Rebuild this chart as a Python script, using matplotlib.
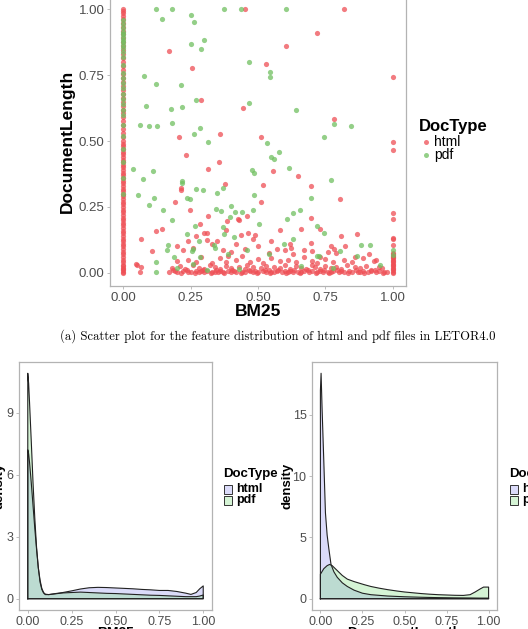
import matplotlib
matplotlib.use("Agg")
import matplotlib.pyplot as plt
from matplotlib.patches import Rectangle
from matplotlib.lines import Line2D

plt.rcParams['font.family'] = ['Liberation Sans', 'DejaVu Sans']

W, H = 528, 629

# ---- scatter data: LETOR4.0 features (BM25 vs DocumentLength) ----
html_col0_y = [0.0, 0.005, 0.01, 0.015, 0.02, 0.025, 0.03, 0.04, 0.05, 0.06, 0.07, 0.08, 0.09, 0.1,
               0.11, 0.12, 0.13, 0.14, 0.15, 0.16, 0.17, 0.18, 0.19, 0.2, 0.21, 0.22, 0.23, 0.24,
               0.25, 0.26, 0.27, 0.28, 0.29, 0.3, 0.31, 0.32, 0.33, 0.34, 0.35, 0.36, 0.37, 0.38,
               0.39, 0.4, 0.41, 0.42, 0.43, 0.44, 0.45, 0.46, 0.47, 0.48, 0.49, 0.5, 0.515, 0.53,
               0.545, 0.56, 0.575, 0.59, 0.605, 0.62, 0.635, 0.65, 0.665, 0.68, 0.695, 0.71, 0.725,
               0.74, 0.755, 0.77, 0.785, 0.8, 0.815, 0.83, 0.845, 0.86, 0.875, 0.89, 0.905, 0.92,
               0.935, 0.95, 0.965, 0.975, 0.985, 0.995, 1.0]
pdf_col0_y = [0.3, 0.36, 0.42, 0.47, 0.52, 0.56, 0.6, 0.62, 0.64, 0.66, 0.68, 0.7, 0.72, 0.74,
              0.76, 0.79, 0.82, 0.84, 0.855, 0.865, 0.875, 0.885, 0.895, 0.905, 0.915, 0.93,
              0.945, 0.96]
html_col1_y = [0.0, 0.005, 0.01, 0.015, 0.02, 0.025, 0.03, 0.035, 0.04, 0.045, 0.05, 0.055, 0.06,
               0.065, 0.07, 0.075, 0.105, 0.127, 0.134, 0.205, 0.228, 0.468, 0.497, 0.743]

html_x = [0.452, 0.821, 0.72, 0.603, 0.168, 0.256, 0.531, 0.444, 0.29, 0.783, 0.206, 0.358,
          0.513, 0.234, 0.354, 0.316, 0.556, 0.65, 0.376, 0.212, 0.212, 0.519, 0.697, 0.192,
          0.804, 0.512, 0.248, 0.697, 0.316, 0.46, 0.424, 0.428, 0.12, 0.142, 0.067, 0.106,
          0.05, 0.045, 0.067, 0.06, 0.285, 0.3, 0.31, 0.348, 0.385, 0.38, 0.435, 0.464, 0.487,
          0.48, 0.58, 0.624, 0.661, 0.697, 0.732, 0.782, 0.809, 0.825, 0.868, 0.914, 0.94,
          0.2, 0.22, 0.26, 0.33, 0.4, 0.45, 0.54, 0.6, 0.63, 0.7, 0.76, 0.86, 0.24, 0.37,
          0.42, 0.5, 0.57, 0.67, 0.73, 0.79, 0.27, 0.31, 0.39, 0.55, 0.62, 0.77,
          # dense band near zero
          0.17, 0.19, 0.2, 0.22, 0.24, 0.25, 0.27, 0.28, 0.29, 0.3, 0.31, 0.33, 0.34, 0.35,
          0.36, 0.37, 0.39, 0.4, 0.41, 0.42, 0.44, 0.45, 0.47, 0.48, 0.49, 0.5, 0.52, 0.53,
          0.55, 0.56, 0.57, 0.59, 0.6, 0.61, 0.62, 0.63, 0.65, 0.66, 0.67, 0.69, 0.7, 0.72,
          0.73, 0.74, 0.76, 0.77, 0.78, 0.8, 0.81, 0.82, 0.84, 0.85, 0.87, 0.88, 0.89, 0.91,
          0.92, 0.94, 0.95, 0.97, 0.98,
          0.18, 0.21, 0.23, 0.26, 0.28, 0.3, 0.32, 0.34, 0.36, 0.38, 0.4, 0.43, 0.45, 0.46,
          0.48, 0.51, 0.53, 0.54, 0.56, 0.58, 0.6, 0.62, 0.64, 0.66, 0.68, 0.7, 0.71, 0.73,
          0.75, 0.77, 0.79, 0.81, 0.83, 0.86, 0.88, 0.9, 0.92, 0.95, 0.96,
          0.2, 0.24, 0.27, 0.29, 0.33, 0.36, 0.38, 0.42, 0.44, 0.47, 0.5, 0.52, 0.55, 0.58,
          0.61, 0.64, 0.67, 0.7, 0.72, 0.75, 0.78, 0.82, 0.85, 0.89, 0.93,
          0.185, 0.215, 0.235, 0.265, 0.295, 0.325, 0.345, 0.375, 0.405, 0.435, 0.465, 0.495,
          0.525, 0.545, 0.575, 0.605, 0.635, 0.655, 0.685, 0.715, 0.745, 0.765, 0.795, 0.835,
          0.865, 0.895, 0.935, 0.965]
html_y = [1.0, 1.0, 0.909, 0.863, 0.842, 0.776, 0.794, 0.627, 0.656, 0.585, 0.515, 0.529,
          0.515, 0.448, 0.42, 0.396, 0.387, 0.368, 0.339, 0.323, 0.314, 0.332, 0.329, 0.268,
          0.281, 0.268, 0.24, 0.209, 0.215, 0.215, 0.205, 0.2, 0.159, 0.168, 0.13, 0.084,
          0.03, 0.032, 0.023, 0.004, 0.185, 0.153, 0.153, 0.122, 0.195, 0.162, 0.145, 0.152,
          0.142, 0.13, 0.162, 0.095, 0.168, 0.115, 0.168, 0.091, 0.139, 0.1, 0.147, 0.073,
          0.049,
          0.1, 0.085, 0.095, 0.11, 0.08, 0.09, 0.075, 0.085, 0.07, 0.082, 0.078, 0.06, 0.12,
          0.088, 0.11, 0.1, 0.09, 0.085, 0.06, 0.075, 0.14, 0.125, 0.065, 0.12, 0.11, 0.1,
          0.004, 0.006, 0.002, 0.008, 0.003, 0.005, 0.007, 0.002, 0.006, 0.004, 0.008, 0.003,
          0.005, 0.002, 0.007, 0.004, 0.006, 0.003, 0.008, 0.002, 0.005, 0.004, 0.007, 0.003,
          0.006, 0.002, 0.008, 0.004, 0.005, 0.003, 0.007, 0.002, 0.006, 0.004, 0.008, 0.003,
          0.005, 0.002, 0.007, 0.004, 0.006, 0.003, 0.008, 0.002, 0.005, 0.004, 0.007, 0.003,
          0.006, 0.002, 0.008, 0.004, 0.005, 0.003, 0.007, 0.002, 0.006, 0.004, 0.008, 0.003,
          0.005,
          0.018, 0.025, 0.014, 0.028, 0.02, 0.016, 0.03, 0.022, 0.013, 0.026, 0.019, 0.024,
          0.015, 0.029, 0.021, 0.017, 0.027, 0.012, 0.023, 0.018, 0.03, 0.014, 0.025, 0.02,
          0.016, 0.028, 0.022, 0.013, 0.026, 0.019, 0.024, 0.015, 0.029, 0.021, 0.017, 0.027,
          0.012, 0.023, 0.018,
          0.045, 0.05, 0.04, 0.06, 0.038, 0.055, 0.042, 0.048, 0.065, 0.04, 0.052, 0.036,
          0.058, 0.044, 0.05, 0.04, 0.062, 0.046, 0.038, 0.054, 0.042, 0.05, 0.04, 0.056, 0.045,
          0.01, 0.0, 0.012, 0.001, 0.01, 0.0, 0.011, 0.001, 0.009, 0.0, 0.012, 0.001,
          0.01, 0.0, 0.011, 0.001, 0.009, 0.0, 0.012, 0.001, 0.01, 0.0, 0.011, 0.001,
          0.009, 0.0, 0.012, 0.001]

pdf_x = [0.122, 0.18, 0.143, 0.25, 0.262, 0.374, 0.435, 0.603, 0.252, 0.3, 0.29, 0.467,
         0.544, 0.544, 0.075, 0.122, 0.212, 0.269, 0.084, 0.175, 0.218, 0.467, 0.642, 0.06,
         0.096, 0.125, 0.182, 0.284, 0.261, 0.782, 0.846, 0.746, 0.313, 0.534, 0.577, 0.55,
         0.56, 0.036, 0.11, 0.072, 0.217, 0.219, 0.297, 0.478, 0.486, 0.617, 0.772, 0.054,
         0.115, 0.095, 0.238, 0.248, 0.27, 0.349, 0.369, 0.4, 0.344, 0.362, 0.414, 0.439,
         0.146, 0.182, 0.486, 0.697, 0.608, 0.63, 0.655, 0.482, 0.165, 0.163, 0.238, 0.265,
         0.281, 0.258, 0.256, 0.335, 0.34, 0.369, 0.374, 0.396, 0.41, 0.46, 0.502, 0.597,
         0.63, 0.719, 0.745, 0.72, 0.728, 0.806, 0.883, 0.916, 0.867, 1.0, 1.0, 0.122, 0.122,
         0.186, 0.26, 0.285, 0.388, 0.54, 0.955, 0.2, 0.31, 0.43, 0.66, 0.78]
pdf_y = [1.0, 1.0, 0.963, 0.978, 0.953, 1.0, 1.0, 1.0, 0.867, 0.885, 0.85, 0.8,
         0.762, 0.742, 0.749, 0.716, 0.714, 0.658, 0.633, 0.622, 0.628, 0.646, 0.62, 0.561,
         0.557, 0.557, 0.57, 0.551, 0.529, 0.565, 0.558, 0.515, 0.495, 0.494, 0.458, 0.44,
         0.433, 0.396, 0.386, 0.358, 0.348, 0.342, 0.313, 0.391, 0.38, 0.399, 0.354, 0.295,
         0.283, 0.256, 0.285, 0.281, 0.318, 0.303, 0.323, 0.253, 0.244, 0.234, 0.23, 0.23,
         0.238, 0.2, 0.297, 0.286, 0.205, 0.227, 0.239, 0.238, 0.104, 0.086, 0.146, 0.176,
         0.122, 0.092, 0.084, 0.105, 0.093, 0.175, 0.149, 0.213, 0.135, 0.085, 0.185, 0.11,
         0.13, 0.176, 0.152, 0.065, 0.065, 0.084, 0.106, 0.105, 0.065, 0.086, 0.067, 0.043,
         0.004, 0.06, 0.035, 0.06, 0.07, 0.07, 0.03, 0.02, 0.01, 0.015, 0.025, 0.02]

# ---- density curves ----
bm25_html_x = [0, 0.005, 0.01, 0.02, 0.03, 0.04, 0.05, 0.06, 0.07, 0.08, 0.09, 0.1, 0.12, 0.15,
               0.2, 0.25, 0.3, 0.35, 0.4, 0.45, 0.5, 0.55, 0.6, 0.65, 0.7, 0.75, 0.8, 0.85, 0.9,
               0.93, 0.96, 0.98, 1.0]
bm25_html_y = [7.2, 7.0, 6.6, 5.6, 4.5, 3.4, 2.4, 1.5, 0.9, 0.5, 0.3, 0.22, 0.2, 0.24, 0.3,
               0.38, 0.47, 0.53, 0.55, 0.54, 0.52, 0.5, 0.48, 0.45, 0.43, 0.4, 0.4, 0.35, 0.27,
               0.21, 0.3, 0.48, 0.62]
bm25_pdf_x = bm25_html_x
bm25_pdf_y = [10.9, 10.4, 9.5, 7.6, 5.6, 3.9, 2.5, 1.5, 0.8, 0.45, 0.28, 0.2, 0.2, 0.23, 0.28,
              0.3, 0.32, 0.3, 0.28, 0.26, 0.25, 0.23, 0.21, 0.19, 0.17, 0.16, 0.14, 0.12, 0.1,
              0.1, 0.1, 0.13, 0.18]

dl_html_x = [0, 0.004, 0.01, 0.02, 0.03, 0.04, 0.05, 0.063, 0.08, 0.1, 0.13, 0.16, 0.2, 0.25,
             0.3, 0.4, 0.5, 0.6, 0.7, 0.8, 0.9, 0.95, 1.0]
dl_html_y = [17.0, 18.4, 15.5, 11.3, 7.0, 5.2, 4.1, 2.8, 2.2, 1.75, 1.3, 1.0, 0.7, 0.45, 0.33,
             0.22, 0.16, 0.12, 0.09, 0.07, 0.06, 0.05, 0.05]
dl_pdf_x = [0, 0.02, 0.04, 0.055, 0.07, 0.1, 0.13, 0.16, 0.2, 0.26, 0.3, 0.35, 0.4, 0.46, 0.5,
            0.6, 0.65, 0.7, 0.8, 0.85, 0.89, 0.92, 0.95, 0.97, 1.0]
dl_pdf_y = [2.0, 2.45, 2.7, 2.8, 2.7, 2.3, 1.9, 1.6, 1.4, 1.15, 1.0, 0.86, 0.74, 0.62, 0.55,
            0.42, 0.37, 0.33, 0.28, 0.27, 0.33, 0.55, 0.8, 0.95, 0.95]

ticks4 = [0.0, 0.25, 0.5, 0.75, 1.0]
tick_labels4 = ["0.00", "0.25", "0.50", "0.75", "1.00"]
bm25_yticks = [0, 3, 6, 9]
dl_yticks = [0, 5, 10, 15]

RED = '#ee4f55'
GREEN = '#70c060'
HTML_FILL = '#8888ee'
PDF_FILL = '#77dd77'
GREY_TXT = '#4d4d4d'
BORDER = '#b3b3b3'


def px_axes(fig, left, top, right, bottom):
    return fig.add_axes([left / W, 1 - bottom / H, (right - left) / W, (bottom - top) / H])


def style(ax, size):
    for s in ax.spines.values():
        s.set_color(BORDER)
        s.set_linewidth(0.9)
    ax.tick_params(colors=GREY_TXT, labelcolor=GREY_TXT, labelsize=size, length=2.5,
                   width=0.6, pad=1.5)
    ax.tick_params(axis='both', color=BORDER)


fig = plt.figure(figsize=(W / 100, H / 100), dpi=100)

# ---- scatter ----
ax = px_axes(fig, 110, -3.7, 406, 286)
xs_h = [0.0] * len(html_col0_y) + [1.0] * len(html_col1_y) + html_x
ys_h = html_col0_y + html_col1_y + html_y
ax.scatter(xs_h, ys_h, s=14, color=RED, alpha=0.75, linewidths=0)
ax.scatter([0.0] * len(pdf_col0_y) + pdf_x, pdf_col0_y + pdf_y, s=14, color=GREEN,
           alpha=0.75, linewidths=0)
ax.set_xlim(-0.05, 1.05)
ax.set_ylim(-0.05, 1.05)
ax.set_xticks(ticks4)
ax.set_xticklabels(tick_labels4)
ax.set_yticks(ticks4)
ax.set_yticklabels(tick_labels4)
style(ax, 9.5)
ax.set_xlabel("BM25", fontsize=12.5, fontweight='bold', labelpad=0)
ax.set_ylabel("DocumentLength", fontsize=12.5, fontweight='bold', labelpad=3)

fig.text(419 / W, 1 - 127 / H, "DocType", fontsize=12, fontweight='bold', va='center', ha='left')
for yy, lab, col in [(142, "html", RED), (155, "pdf", GREEN)]:
    fig.add_artist(Line2D([426 / W], [1 - yy / H], marker='o', markersize=3.6, color=col,
                          alpha=0.75, markeredgewidth=0, linestyle='none'))
    fig.text(434 / W, 1 - yy / H, lab, fontsize=10, va='center', ha='left')

fig.text(278 / W, 1 - 336 / H,
         "(a) Scatter plot for the feature distribution of html and pdf files in LETOR4.0",
         family='cmr10', fontsize=9.1, ha='center', va='center')


def density_panel(left, right, hx, hy, px_, py_, yticks, xlabel, ylab_x, leg_x):
    a = px_axes(fig, left, 362, right, 610)
    a.fill([hx[0]] + hx + [hx[-1]], [0] + hy + [0], facecolor=HTML_FILL, alpha=0.3,
           edgecolor='none')
    a.fill([px_[0]] + px_ + [px_[-1]], [0] + py_ + [0], facecolor=PDF_FILL, alpha=0.3,
           edgecolor='none')
    a.plot([hx[0]] + hx + [hx[-1], hx[0]], [0] + hy + [0, 0], color='#222222', lw=0.8)
    a.plot([px_[0]] + px_ + [px_[-1], px_[0]], [0] + py_ + [0, 0], color='#222222', lw=0.8)
    ymax = max(max(hy), max(py_))
    a.set_xlim(-0.05, 1.05)
    a.set_ylim(-0.05 * ymax, 1.05 * ymax)
    a.set_xticks(ticks4)
    a.set_xticklabels(tick_labels4)
    a.set_yticks(yticks)
    style(a, 9)
    fig.text((left + right) / 2 / W, 1 - 626 / H, xlabel, fontsize=10, fontweight='bold',
             ha='center', va='top')
    fig.text(ylab_x / W, 1 - 486 / H, "density", fontsize=9.5, fontweight='bold',
             rotation=90, ha='center', va='center')
    fig.text(leg_x / W, 1 - 474 / H, "DocType", fontsize=9.5, fontweight='bold',
             ha='left', va='center')
    for yy, lab, fc in [(489, "html", HTML_FILL), (500, "pdf", PDF_FILL)]:
        fig.add_artist(Rectangle(((leg_x + 0.5) / W, 1 - (yy + 4.5) / H), 8 / W, 9 / H,
                                 facecolor=fc, alpha=0.3, edgecolor='none'))
        fig.add_artist(Rectangle(((leg_x + 0.5) / W, 1 - (yy + 4.5) / H), 8 / W, 9 / H,
                                 facecolor='none', edgecolor='#333333', lw=0.7))
        fig.text((leg_x + 13) / W, 1 - yy / H, lab, fontsize=9, fontweight='bold',
                 ha='left', va='center')
    return a


density_panel(19, 212, bm25_html_x, bm25_html_y, bm25_pdf_x, bm25_pdf_y, bm25_yticks,
              "BM25", 0, 223)
density_panel(312, 497, dl_html_x, dl_html_y, dl_pdf_x, dl_pdf_y, dl_yticks,
              "DocumentLength", 287, 509)

fig.savefig("out.png", dpi=100)
